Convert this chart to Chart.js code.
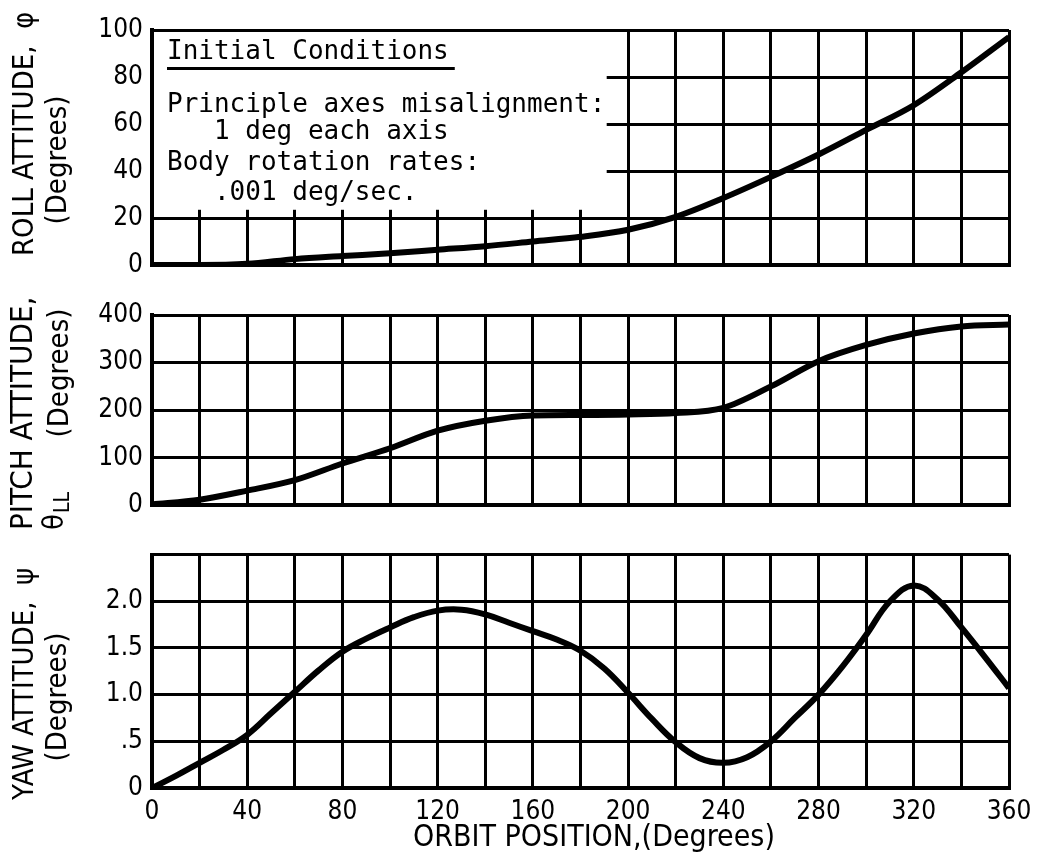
<!DOCTYPE html>
<html>
<head>
<meta charset="utf-8">
<title>Attitude vs orbit position</title>
<script src="https://cdn.jsdelivr.net/npm/chart.js@4.4.1/dist/chart.umd.min.js"></script>
<style>
  html, body { margin: 0; padding: 0; background: #fff; }
  #page { position: relative; width: 1047px; height: 858px; overflow: hidden; }
  #page canvas { position: absolute; left: 0; }
</style>
</head>
<body>
<div id="page">
  <canvas id="rollChart" width="1047" height="290" style="top:0"></canvas>
  <canvas id="pitchChart" width="1047" height="240" style="top:290px"></canvas>
  <canvas id="yawChart" width="1047" height="328" style="top:530px"></canvas>
</div>
<script>
// orbit position (deg) where roll and pitch were read
const orbitPos = [0, 20, 40, 60, 80, 100, 120, 140, 160, 180, 200, 220, 240, 260, 280, 300, 320, 340, 360];
// yaw swings a lot more, so it is read every 10 deg
const yawPos = [0, 10, 20, 30, 40, 50, 60, 70, 80, 90, 100, 110, 120, 130, 140, 150, 160, 170, 180,
  190, 200, 210, 220, 230, 240, 250, 260, 270, 280, 290, 300, 310, 320, 330, 340, 350, 360];

// roll, pitch and yaw attitude (deg)
const rollAtt = [0, 0, 0.5, 2.5, 3.8, 5, 6.5, 8, 10, 12, 15, 20.5, 28.5, 37.5, 47, 57.5, 68, 82, 97];
const pitchAtt = [2, 12, 31, 53, 88, 120, 157, 178, 189, 190, 191, 194, 205, 250, 303, 337, 361, 376, 380];
const yawAtt = [0, 0.13, 0.27, 0.41, 0.57, 0.8, 1.03, 1.26, 1.46, 1.6, 1.72, 1.83, 1.9, 1.91, 1.86, 1.77, 1.68, 1.59, 1.47,
  1.28, 1.02, 0.74, 0.49, 0.32, 0.27, 0.33, 0.5, 0.75, 1.0, 1.3, 1.64, 2.0, 2.17, 2.02, 1.72, 1.4, 1.07];

// labelled orbit positions on the bottom axis
const orbitLabels = [0, 40, 80, 120, 160, 200, 240, 280, 320, 360];
// yaw axis labels, the typewriter way (no leading zero)
const yawTickText = { 0: "0", 0.5: ".5", 1: "1.0", 1.5: "1.5", 2: "2.0" };

// text of the initial conditions box
const noteTitle = "Initial Conditions";
const noteLines = [
  "Principle axes misalignment:",
  "   1 deg each axis",
  "Body rotation rates:",
  "   .001 deg/sec.",
];

const SANS = '"DejaVu Sans Condensed", "Liberation Sans Narrow", "DejaVu Sans", sans-serif';
const MONO = '"DejaVu Sans Mono", "Liberation Mono", monospace';
const INK = "#000";

Chart.defaults.font.family = SANS;
Chart.defaults.color = INK;

// rotated / plain free text around a panel
const pageText = {
  id: "pageText",
  afterDraw(chart, args, opts) {
    const ctx = chart.ctx;
    (opts.items || []).forEach((it) => {
      const size = it.size || 29;
      ctx.save();
      ctx.fillStyle = INK;
      ctx.font = size + "px " + SANS;
      ctx.textBaseline = "middle";
      ctx.textAlign = it.align || "left";
      ctx.translate(it.x, it.y);
      if (it.rotate) ctx.rotate(-Math.PI / 2);
      ctx.fillText(it.text, 0, 0);
      if (it.sub) {
        // subscript right after the main text
        const w = ctx.measureText(it.text).width;
        ctx.font = Math.round(size * 0.72) + "px " + SANS;
        ctx.fillText(it.sub, w + 1, 9);
      }
      ctx.restore();
    });
  },
};

// white notes box in the upper left of the roll panel
const notesBox = {
  id: "notesBox",
  beforeDatasetsDraw(chart, args, opts) {
    if (!opts.show) return;
    const { ctx, chartArea } = chart;
    const right = chart.scales.x.getPixelForValue(opts.toX);
    const bottom = chart.scales.y.getPixelForValue(opts.toY);
    ctx.save();
    ctx.fillStyle = "#fff";
    ctx.fillRect(chartArea.left + 2, chartArea.top + 2, right - chartArea.left - 2, bottom - chartArea.top - 2);
    ctx.fillStyle = INK;
    ctx.font = "26px " + MONO;
    ctx.textBaseline = "alphabetic";
    const x0 = chartArea.left + 15;
    ctx.fillText(noteTitle, x0, 59);
    const tw = ctx.measureText(noteTitle).width;
    ctx.fillRect(x0, 67, tw + 6, 3);
    const baselines = [112, 139, 170, 200];
    noteLines.forEach((line, i) => ctx.fillText(line, x0, baselines[i]));
    ctx.restore();
  },
};

function makePanel(canvasId, xs, values, cfg) {
  const points = xs.map((x, i) => ({ x: x, y: values[i] }));
  return new Chart(document.getElementById(canvasId), {
    type: "line",
    data: {
      datasets: [
        {
          data: points,
          borderColor: INK,
          borderWidth: 6,
          pointRadius: 0,
          // monotone keeps the flat stretches flat; yaw is smoother as a plain spline
          cubicInterpolationMode: cfg.spline ? "default" : "monotone",
          tension: cfg.spline ? 0.4 : 0,
          fill: false,
        },
      ],
    },
    options: {
      responsive: false,
      animation: false,
      devicePixelRatio: 1,
      layout: { padding: { top: cfg.padTop, right: 38, left: 0, bottom: 0 } },
      plugins: {
        legend: { display: false },
        tooltip: { enabled: false },
        pageText: { items: cfg.texts },
        notesBox: cfg.notes || { show: false },
      },
      scales: {
        x: {
          type: "linear",
          min: 0,
          max: 360,
          grid: { color: INK, lineWidth: 3, drawTicks: false },
          border: { color: INK, width: 4 },
          ticks: {
            display: !!cfg.showX,
            stepSize: 20,
            padding: 9,
            autoSkip: false,
            maxRotation: 0,
            minRotation: 0,
            font: { size: 26 },
            color: INK,
            callback: (v) => (orbitLabels.includes(v) ? String(v) : ""),
          },
          afterFit(scale) {
            scale.height = cfg.xHeight;
          },
        },
        y: {
          min: cfg.yMin,
          max: cfg.yMax,
          grid: { color: INK, lineWidth: 3, drawTicks: false },
          border: { color: INK, width: 4 },
          ticks: {
            stepSize: cfg.yStep,
            padding: 9,
            font: { size: 26 },
            color: INK,
            callback: cfg.yLabel || ((v) => String(v)),
          },
          afterFit(scale) {
            scale.width = 152;
          },
        },
      },
    },
    plugins: [pageText, notesBox],
  });
}

// roll
makePanel("rollChart", orbitPos, rollAtt, {
  padTop: 30,
  xHeight: 25,
  yMin: 0,
  yMax: 100,
  yStep: 20,
  notes: { show: true, toX: 191, toY: 23.5 },
  texts: [
    { text: "ROLL ATTITUDE,  \u03C6", x: 25, y: 256, rotate: true },
    { text: "(Degrees)", x: 58, y: 160, rotate: true, align: "center" },
  ],
});

// pitch
makePanel("pitchChart", orbitPos, pitchAtt, {
  padTop: 25,
  xHeight: 22,
  yMin: 0,
  yMax: 400,
  yStep: 100,
  texts: [
    { text: "PITCH ATTITUDE,", x: 24, y: 240, size: 31, rotate: true },
    { text: "\u03B8", sub: "LL", x: 55, y: 240, rotate: true },
    { text: "(Degrees)", x: 60, y: 83, rotate: true, align: "center" },
  ],
});

// yaw, with the orbit position axis underneath
makePanel("yawChart", yawPos, yawAtt, {
  padTop: 23,
  xHeight: 70,
  yMin: 0,
  yMax: 2.5,
  yStep: 0.5,
  showX: true,
  spline: true,
  yLabel: (v) => (yawTickText[v] !== undefined ? yawTickText[v] : ""),
  texts: [
    { text: "YAW ATTITUDE,  \u03C8", x: 25, y: 270, rotate: true },
    { text: "(Degrees)", x: 58, y: 167, rotate: true, align: "center" },
    { text: "ORBIT POSITION,(Degrees)", x: 594, y: 308, size: 30, align: "center" },
  ],
});
</script>
</body>
</html>
